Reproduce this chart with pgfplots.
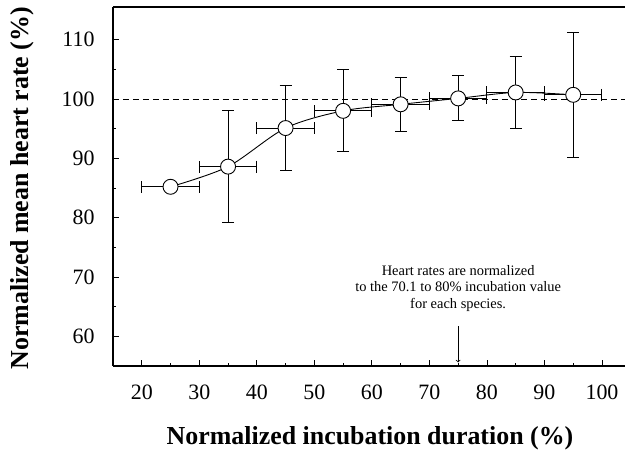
\documentclass[border=0pt]{standalone}
\usepackage{fontspec}
\setmainfont{Liberation Serif}
\usepackage{pgfplots}
\pgfplotsset{compat=1.18}
\begin{document}
\begin{tikzpicture}
\begin{axis}[
  scale only axis, width=512bp, height=359bp,
  xmin=15, xmax=104, ymin=55, ymax=115.5,
  axis lines=left, axis line style={-, line width=1.1pt},
  xtick={20,30,...,100}, ytick={60,70,...,110},
  minor xtick={25,35,...,95}, minor ytick={65,75,...,105},
  tick align=inside,
  major tick length=6bp, minor tick length=3.5bp,
  tick style={black, line width=0.8pt},
  ticklabel style={font=\fontsize{22}{22}\selectfont},
  xticklabel style={yshift=-15bp},
  yticklabel style={xshift=-15bp},
  /pgf/number format/assume math mode=true,
  xlabel={Normalized incubation duration (\%)},
  ylabel={Normalized mean heart rate (\%)},
  label style={font=\fontsize{26}{26}\selectfont\bfseries},
  xlabel style={at={(axis description cs:0.502,-0.2006)}, anchor=center},
  ylabel style={at={(axis description cs:-0.178,0.495)}, anchor=center},
  clip=false,
]
\draw[line width=1.1pt] (rel axis cs:0,1) -- (rel axis cs:1,1);
\addplot[black, line width=0.9pt, dash pattern=on 6pt off 4pt] coordinates {(15,100) (104,100)};
\addplot[black, smooth, line width=0.9pt, no markers] coordinates {
(25,85.2) (35,88.6) (45,95.1) (55,98.0) (65,99.1) (75,100.1) (85,101.1) (95,100.7)};
\addplot[black, only marks, mark=*, mark size=7.5bp,
  mark options={fill=white, draw=black, line width=0.9pt},
  error bars/.cd, x dir=both, x explicit, y dir=both, y explicit,
  error bar style={line width=0.9pt},
  error mark options={rotate=90, mark size=6bp, line width=1pt}]
coordinates {
(25,85.2) +- (5,0)
(35,88.6) +- (5,9.5)
(45,95.1) +- (5,7.1)
(55,98.0) +- (5,6.9)
(65,99.1) +- (5,4.5)
(75,100.1) +- (5,3.8)
(85,101.1) +- (5,6.0)
(95,100.7) +- (5,10.5)
};
\node[align=center, font=\fontsize{14.5}{16.7}\selectfont] at (axis cs:75,68.1) {Heart rates are normalized\\to the 70.1 to 80\% incubation value\\for each species.};
\draw[->, line width=0.8pt] (axis cs:75,61.7) -- (axis cs:75,55.6);
\end{axis}
\pgfresetboundingbox
\useasboundingbox (-113bp,-89bp) rectangle (512bp,366bp);
\end{tikzpicture}
\end{document}
